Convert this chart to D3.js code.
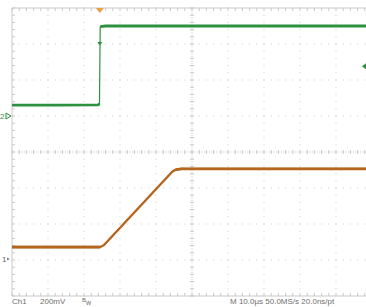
<!DOCTYPE html>
<html><head><meta charset="utf-8">
<script src="https://cdn.jsdelivr.net/npm/d3@7"></script>
<style>html,body{margin:0;padding:0;background:#fff;}svg{display:block;}</style>
</head><body>
<script>
// ---- data (time in µs, level in divisions above channel ground) ----
const ch2Time  = [0, 12, 24.0, 24.3, 24.5, 26, 60, 100];
const ch2Level = [0.30, 0.30, 0.31, 0.34, 2.48, 2.50, 2.50, 2.50];
const ch1Time  = [0, 24.5, 25.5, 44.5, 45.5, 47, 100];
const ch1Level = [0.33, 0.33, 0.38, 2.42, 2.48, 2.50, 2.50];
const ch2Flat = [[0, 3], [4, 7]];   // index ranges of settled (noisy, thick) parts
const ch1Flat = [[0, 1], [4, 6]];
const ch1Ground = -2.97;   // divisions from screen centre
const ch2Ground = 1.0;
const triggerTime = 24.4;   // µs
const triggerLevel = 2.38;  // divisions from centre (right marker)
const statusLeft = ["Ch1", "200mV"];
const statusRight = "M 10.0µs 50.0MS/s  20.0ns/pt";

const W = 366, H = 307;
const svg = d3.select("body").append("svg").attr("width", W).attr("height", H);

const div = 36;
const x = d3.scaleLinear().domain([0, 100]).range([12, 12 + 10 * div]);
const y = d3.scaleLinear().domain([-4, 4]).range([8 + 8 * div, 8]);

const gridC = "#c9c9c9";
const g = svg.append("g");
const x0 = x(0), x1 = x(100), y0 = y(4), y1 = y(-4);

for (let i = 1; i < 10; i++) {
  if (i === 5) continue;
  const xx = x(i * 10);
  for (let yy = y0; yy <= y1; yy += div / 5)
    g.append("rect").attr("x", xx - 0.5).attr("y", yy - 0.5).attr("width", 1).attr("height", 1).attr("fill", gridC);
}
for (let j = -3; j <= 3; j++) {
  if (j === 0) continue;
  const yy = y(j);
  for (let xx = x0; xx <= x1; xx += div / 5)
    g.append("rect").attr("x", xx - 0.5).attr("y", yy - 0.5).attr("width", 1).attr("height", 1).attr("fill", gridC);
}
const cx = x(50), cy = y(0);
g.append("line").attr("x1", x0).attr("x2", x1).attr("y1", cy).attr("y2", cy).attr("stroke", gridC).attr("stroke-dasharray", "1,1.4");
g.append("line").attr("x1", cx).attr("x2", cx).attr("y1", y0).attr("y2", y1).attr("stroke", gridC).attr("stroke-dasharray", "1,1.4");
for (let xx = x0; xx <= x1; xx += div / 5) {
  g.append("line").attr("x1", xx).attr("x2", xx).attr("y1", cy - 2).attr("y2", cy + 2).attr("stroke", gridC);
  g.append("line").attr("x1", xx).attr("x2", xx).attr("y1", y0).attr("y2", y0 + 3).attr("stroke", gridC);
  g.append("line").attr("x1", xx).attr("x2", xx).attr("y1", y1).attr("y2", y1 - 3).attr("stroke", gridC);
}
for (let yy = y0; yy <= y1 + 0.1; yy += div / 5) {
  g.append("line").attr("x1", cx - 2).attr("x2", cx + 2).attr("y1", yy).attr("y2", yy).attr("stroke", gridC);
  g.append("line").attr("x1", x0).attr("x2", x0 + 3).attr("y1", yy).attr("y2", yy).attr("stroke", gridC);
}
g.append("line").attr("x1", x0).attr("x2", x1).attr("y1", y0).attr("y2", y0).attr("stroke", gridC);
g.append("line").attr("x1", x0).attr("x2", x1).attr("y1", y1).attr("y2", y1).attr("stroke", gridC);
g.append("line").attr("x1", x0).attr("x2", x0).attr("y1", y0).attr("y2", y1).attr("stroke", gridC);

// traces
const green = "#2e9140", orange = "#b4661f";
const ch2Pts = ch2Time.map((t, i) => [x(t), y(ch2Ground + ch2Level[i])]);
const ch1Pts = ch1Time.map((t, i) => [x(t), y(ch1Ground + ch1Level[i])]);
function trace(pts, flats, col, thin, thick) {
  svg.append("path").attr("d", d3.line()(pts)).attr("fill", "none").attr("stroke", col).attr("stroke-width", thin).attr("stroke-linejoin", "round");
  flats.forEach(([a, b]) => {
    svg.append("path").attr("d", d3.line()(pts.slice(a, b + 1))).attr("fill", "none").attr("stroke", col).attr("stroke-width", thick).attr("stroke-linejoin", "round");
  });
}
trace(ch2Pts, ch2Flat, green, 1.2, 2.8);
trace(ch1Pts, ch1Flat, orange, 2.4, 2.8);

// markers
const tx = x(triggerTime);
svg.append("path").attr("d", `M${tx - 4},${y0} L${tx + 4},${y0} L${tx},${y0 + 5} Z`).attr("fill", "#e8a040");
svg.append("path").attr("d", `M${tx - 2.5},${y(3.0) - 2} L${tx + 2.5},${y(3.0) - 2} L${tx},${y(3.0) + 1.5} Z`).attr("fill", green);
svg.append("path").attr("d", `M${W},${y(triggerLevel) - 3} L${W},${y(triggerLevel) + 3} L${W - 4},${y(triggerLevel)} Z`).attr("fill", green);

const ff = "Liberation Sans, Arial, sans-serif";
svg.append("text").attr("x", 0).attr("y", y(ch2Ground) + 3).attr("font-family", ff).attr("font-size", 8).attr("fill", green).text("2");
svg.append("path").attr("d", `M6,${y(ch2Ground) - 3} L11,${y(ch2Ground)} L6,${y(ch2Ground) + 3} Z`).attr("fill", "none").attr("stroke", green).attr("stroke-width", 1);
svg.append("text").attr("x", 2).attr("y", y(ch1Ground) + 3).attr("font-family", ff).attr("font-size", 8).attr("fill", "#666").text("1");
svg.append("path").attr("d", `M7,${y(ch1Ground) - 1.5} L10,${y(ch1Ground)} L7,${y(ch1Ground) + 1.5} Z`).attr("fill", "#888");

const tc = "#6f6f6f";
const fs = 8;
svg.append("text").attr("x", 12).attr("y", 304).attr("font-family", ff).attr("font-size", fs).attr("fill", tc).text(statusLeft[0]);
svg.append("text").attr("x", 40).attr("y", 304).attr("font-family", ff).attr("font-size", fs).attr("fill", tc).text(statusLeft[1]);
svg.append("text").attr("x", 82).attr("y", 302).attr("font-family", ff).attr("font-size", 6).attr("fill", tc).text("B");
svg.append("text").attr("x", 86).attr("y", 305).attr("font-family", ff).attr("font-size", 7).attr("fill", tc).text("w");
svg.append("text").attr("x", 230).attr("y", 304).attr("font-family", ff).attr("font-size", fs).attr("fill", tc).text(statusRight);
</script>
</body></html>
